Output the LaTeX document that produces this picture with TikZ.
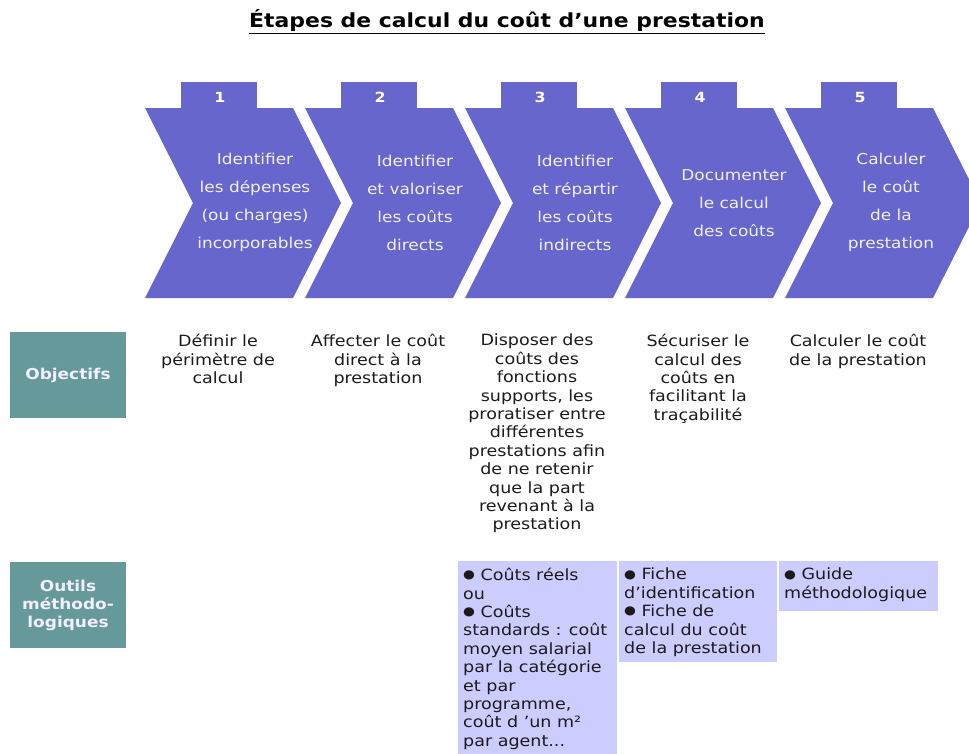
\documentclass[tikz,border=0pt]{standalone}
\usepackage{fontspec}
\setmainfont{DejaVu Sans}[FakeStretch=1.13]
\usepackage{xcolor}
\usetikzlibrary{positioning}

\definecolor{etapebleu}{RGB}{102,102,204}
\definecolor{sarcelle}{RGB}{102,153,153}
\definecolor{lavande}{RGB}{204,204,255}
\definecolor{texteclair}{RGB}{242,240,255}
\definecolor{textefonce}{RGB}{30,26,26}

\newcommand{\puce}{\raisebox{1.8pt}{\fontsize{12}{12}\selectfont ●}}

\begin{document}
\begin{tikzpicture}[x=1pt,y=-1pt,
    numero/.style={text=white,font=\bfseries\fontsize{14}{16}\selectfont,inner sep=0pt},
    intitule/.style={text=texteclair,align=center,inner sep=0pt,font=\fontsize{15}{28}\selectfont},
    objectif/.style={text=textefonce,align=center,anchor=north,inner sep=0pt,font=\fontsize{15.5}{18.4}\selectfont},
    rubrique/.style={fill=sarcelle,text=texteclair,align=center,minimum width=116pt,minimum height=86pt,inner sep=0pt,font=\bfseries\fontsize{15}{18}\selectfont},
    outil/.style={text=textefonce,align=left,anchor=north west,inner sep=0pt,font=\fontsize{15.5}{18.4}\selectfont}]

    \clip (0,0) rectangle (969,753);

    %titre
    \node [font=\bfseries\fontsize{19.4}{22}\selectfont] (titre) at (507,22) {\underline{Étapes de calcul du coût d’une prestation}};

    %chevrons
    \foreach \g/\n in {145/1,305/2,465/3,625/4,785/5} {
        \fill [etapebleu] (\g,108) -- ++(148,0) -- ++(48,95) -- ++(-48,95) -- ++(-148,0) -- ++(48,-95) -- cycle;
        \fill [etapebleu] (\g+36,82) rectangle (\g+112,109);
        \node [numero] (num\n) at (\g+75,97) {\n};
    }

    \node [intitule] (etape1) at (255,202) {Identifier\\les dépenses\\(ou charges)\\incorporables};
    \node [intitule] (etape2) at (415,203) {Identifier\\et valoriser\\les coûts\\directs};
    \node [intitule] (etape3) at (575,203) {Identifier\\et répartir\\les coûts\\indirects};
    \node [intitule] (etape4) at (734,203) {Documenter\\le calcul\\des coûts};
    \node [intitule] (etape5) at (891,202) {Calculer\\le coût\\de la\\prestation};

    %objectifs
    \node [rubrique] (objectifs) at (68,375) {Objectifs};

    \node [objectif] (obj1) at (218,334) {Définir le\\périmètre de\\calcul};
    \node [objectif] (obj2) at (378,334) {Affecter le coût\\direct à la\\prestation};
    \node [objectif] (obj3) at (537,334) {Disposer des\\coûts des\\fonctions\\supports, les\\proratiser entre\\différentes\\prestations afin\\de ne retenir\\que la part\\revenant à la\\prestation};
    \node [objectif] (obj4) at (698,334) {Sécuriser le\\calcul des\\coûts en\\facilitant la\\traçabilité};
    \node [objectif] (obj5) at (858,334) {Calculer le coût\\de la prestation};

    %outils
    \node [rubrique] (outils) at (68,605) {Outils\\méthodo-\\logiques};

    \fill [lavande] (458,561) rectangle (617,760);
    \fill [lavande] (619,561) rectangle (777,662);
    \fill [lavande] (779,561) rectangle (938,611);

    \node [outil] (outil3) at (463,568) {\puce\ Coûts réels\\ou\\\puce\ Coûts\\standards : coût\\moyen salarial\\par la catégorie\\et par\\programme,\\coût d ’un m²\\par agent...};
    \node [outil] (outil4) at (624,568) {\puce\ Fiche\\d’identification\\\puce\ Fiche de\\calcul du coût\\de la prestation};
    \node [outil] (outil5) at (784,568) {\puce\ Guide\\méthodologique};
\end{tikzpicture}
\end{document}
